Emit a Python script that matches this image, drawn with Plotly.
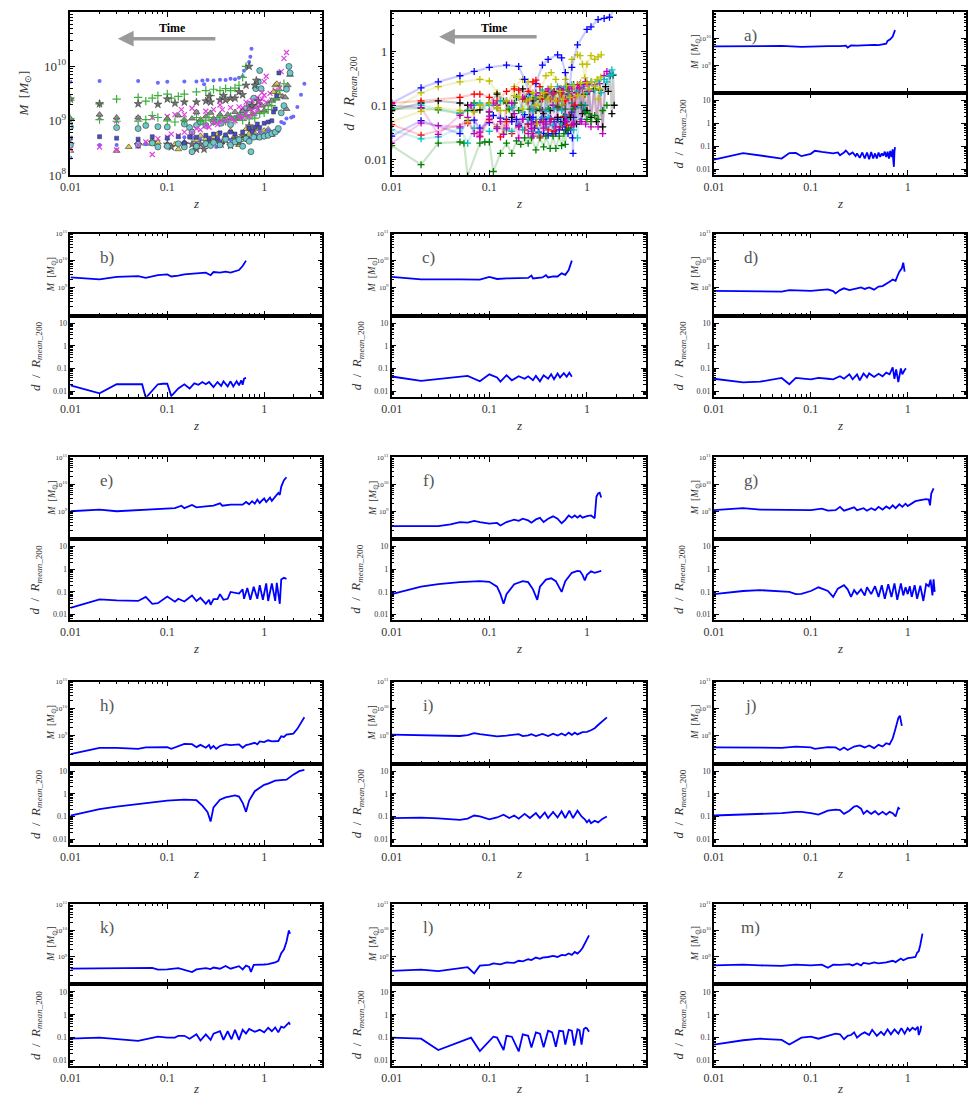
import plotly.graph_objects as go

# the page body keeps its 8px margin on every side, so the figure is shrunk to fit inside it
OFF = 8
W, H = 976 - 2 * OFF, 1110 - 2 * OFF

# each pair is (z, value)
# mass in units of 1e9 M_sun, distance in units of R_mean_200
a_mass = [(0.01, 5.2), (0.02, 5.4), (0.05, 5.4), (0.08, 5.0), (0.1, 5.2), (0.15, 5.3), (0.2, 5.3),
          (0.23, 5.5), (0.24, 4.7), (0.26, 5.6), (0.3, 5.5), (0.35, 5.7), (0.4, 5.6), (0.45, 5.9),
          (0.5, 5.8), (0.55, 6.2), (0.6, 6.6), (0.62, 8.3), (0.66, 9.5), (0.7, 12), (0.72, 15), (0.74, 21)]
a_dist = [(0.01, 0.027), (0.02, 0.052), (0.05, 0.03), (0.06, 0.052), (0.07, 0.053), (0.08, 0.038),
          (0.1, 0.048), (0.11, 0.065), (0.13, 0.058), (0.15, 0.055), (0.17, 0.05), (0.19, 0.055),
          (0.2, 0.042), (0.22, 0.055), (0.23, 0.067), (0.25, 0.045), (0.27, 0.055), (0.29, 0.038),
          (0.3, 0.05), (0.32, 0.032), (0.34, 0.055), (0.36, 0.03), (0.38, 0.055), (0.4, 0.028),
          (0.42, 0.058), (0.44, 0.03), (0.46, 0.05), (0.48, 0.03), (0.5, 0.055), (0.52, 0.035),
          (0.54, 0.05), (0.56, 0.04), (0.58, 0.06), (0.6, 0.035), (0.62, 0.06), (0.64, 0.03),
          (0.66, 0.065), (0.68, 0.035), (0.7, 0.075), (0.71, 0.025), (0.72, 0.013), (0.73, 0.06), (0.74, 0.095)]

b_mass = [(0.01, 2.4), (0.02, 2.05), (0.03, 2.5), (0.05, 2.7), (0.06, 2.3), (0.07, 2.6), (0.08, 2.9),
          (0.1, 3.1), (0.11, 2.6), (0.13, 2.8), (0.15, 3.1), (0.2, 3.4), (0.25, 3.6), (0.28, 2.9),
          (0.3, 3.8), (0.35, 3.6), (0.4, 3.9), (0.45, 3.6), (0.5, 4.0), (0.55, 4.5), (0.6, 6.3), (0.65, 10)]
b_dist = [(0.01, 0.018), (0.02, 0.008), (0.03, 0.02), (0.05, 0.021), (0.055, 0.02), (0.06, 0.005),
          (0.08, 0.02), (0.09, 0.021), (0.1, 0.021), (0.11, 0.006), (0.13, 0.013), (0.15, 0.02),
          (0.17, 0.013), (0.19, 0.022), (0.21, 0.019), (0.23, 0.025), (0.25, 0.02), (0.27, 0.025),
          (0.3, 0.015), (0.33, 0.025), (0.36, 0.017), (0.38, 0.027), (0.42, 0.016), (0.45, 0.027),
          (0.48, 0.016), (0.52, 0.027), (0.55, 0.018), (0.58, 0.03), (0.6, 0.019), (0.62, 0.035), (0.65, 0.038)]

c_mass = [(0.01, 2.5), (0.02, 2.05), (0.05, 2.05), (0.08, 2.0), (0.1, 2.5), (0.12, 2.1), (0.15, 2.2),
          (0.2, 2.2), (0.25, 2.3), (0.27, 2.8), (0.28, 2.2), (0.35, 2.4), (0.38, 2.9), (0.4, 2.4),
          (0.45, 2.6), (0.5, 2.6), (0.55, 3.4), (0.6, 3.0), (0.65, 4.5), (0.7, 10)]
c_dist = [(0.01, 0.044), (0.02, 0.028), (0.06, 0.047), (0.08, 0.027), (0.1, 0.055), (0.12, 0.04),
          (0.13, 0.026), (0.15, 0.05), (0.17, 0.03), (0.2, 0.045), (0.23, 0.035), (0.25, 0.045),
          (0.28, 0.03), (0.3, 0.047), (0.33, 0.027), (0.36, 0.05), (0.4, 0.035), (0.43, 0.055),
          (0.46, 0.033), (0.5, 0.06), (0.53, 0.04), (0.58, 0.062), (0.62, 0.043), (0.66, 0.065), (0.7, 0.043)]

d_mass = [(0.01, 0.77), (0.03, 0.75), (0.05, 0.72), (0.06, 0.82), (0.08, 0.78), (0.1, 0.77),
          (0.15, 0.87), (0.17, 0.75), (0.18, 0.62), (0.2, 0.82), (0.22, 0.95), (0.25, 0.82),
          (0.3, 0.95), (0.33, 1.03), (0.36, 0.9), (0.4, 1.03), (0.45, 0.85), (0.5, 1.1), (0.55, 1.15),
          (0.6, 1.45), (0.65, 1.67), (0.7, 2.0), (0.75, 1.8), (0.78, 2.6), (0.82, 3.9), (0.87, 5.2),
          (0.9, 8.4), (0.93, 3.9)]
d_dist = [(0.01, 0.035), (0.02, 0.024), (0.03, 0.026), (0.05, 0.038), (0.06, 0.02), (0.07, 0.038),
          (0.1, 0.033), (0.12, 0.038), (0.15, 0.035), (0.17, 0.033), (0.2, 0.045), (0.22, 0.035),
          (0.25, 0.055), (0.27, 0.033), (0.3, 0.055), (0.32, 0.03), (0.35, 0.06), (0.38, 0.04),
          (0.4, 0.06), (0.45, 0.042), (0.5, 0.058), (0.55, 0.045), (0.6, 0.065), (0.65, 0.055),
          (0.7, 0.11), (0.73, 0.035), (0.76, 0.09), (0.8, 0.025), (0.85, 0.1), (0.88, 0.055),
          (0.93, 0.085), (0.96, 0.1)]

e_mass = [(0.01, 1.0), (0.02, 1.15), (0.03, 1.0), (0.05, 1.1), (0.07, 1.15), (0.1, 1.2), (0.12, 1.3),
          (0.14, 1.6), (0.15, 1.3), (0.18, 1.7), (0.2, 1.4), (0.25, 1.5), (0.3, 1.6), (0.35, 1.95),
          (0.37, 1.6), (0.45, 1.75), (0.55, 1.8), (0.6, 1.75), (0.65, 2.2), (0.7, 1.8), (0.75, 2.35),
          (0.8, 1.9), (0.85, 2.7), (0.9, 2.0), (0.95, 2.5), (1.0, 2.95), (1.05, 2.2), (1.15, 3.2),
          (1.2, 2.4), (1.3, 3.6), (1.4, 4.7), (1.45, 4.0), (1.5, 8.0), (1.6, 14), (1.7, 18)]
e_dist = [(0.01, 0.02), (0.02, 0.047), (0.03, 0.042), (0.05, 0.04), (0.06, 0.06), (0.07, 0.03),
          (0.08, 0.032), (0.1, 0.063), (0.12, 0.037), (0.13, 0.05), (0.15, 0.038), (0.18, 0.07),
          (0.2, 0.04), (0.22, 0.055), (0.25, 0.03), (0.27, 0.045), (0.28, 0.027), (0.3, 0.048),
          (0.33, 0.048), (0.35, 0.08), (0.38, 0.045), (0.42, 0.05), (0.45, 0.1), (0.5, 0.095),
          (0.55, 0.085), (0.6, 0.13), (0.62, 0.05), (0.67, 0.15), (0.72, 0.045), (0.78, 0.17),
          (0.85, 0.05), (0.9, 0.2), (0.97, 0.045), (1.05, 0.24), (1.1, 0.04), (1.2, 0.24), (1.3, 0.04),
          (1.35, 0.25), (1.45, 0.03), (1.5, 0.35), (1.6, 0.42), (1.7, 0.38)]

f_mass = [(0.01, 0.28), (0.03, 0.28), (0.04, 0.33), (0.05, 0.4), (0.06, 0.38), (0.07, 0.44),
          (0.08, 0.4), (0.1, 0.35), (0.12, 0.37), (0.13, 0.3), (0.15, 0.4), (0.18, 0.49), (0.2, 0.44),
          (0.22, 0.53), (0.25, 0.46), (0.27, 0.38), (0.3, 0.5), (0.33, 0.57), (0.36, 0.4), (0.4, 0.53),
          (0.45, 0.65), (0.5, 0.53), (0.55, 0.36), (0.6, 0.48), (0.65, 0.7), (0.7, 0.58), (0.75, 0.7),
          (0.8, 0.58), (0.85, 0.7), (0.9, 0.58), (1.0, 0.66), (1.1, 0.7), (1.2, 0.55), (1.25, 3.4),
          (1.3, 4.5), (1.35, 4.8), (1.4, 3.2)]
f_dist = [(0.01, 0.08), (0.02, 0.17), (0.03, 0.22), (0.05, 0.27), (0.08, 0.3), (0.1, 0.28),
          (0.12, 0.17), (0.13, 0.08), (0.14, 0.03), (0.15, 0.08), (0.18, 0.22), (0.22, 0.3),
          (0.25, 0.27), (0.28, 0.13), (0.31, 0.045), (0.33, 0.17), (0.38, 0.35), (0.43, 0.4),
          (0.48, 0.3), (0.52, 0.17), (0.55, 0.1), (0.6, 0.3), (0.7, 0.7), (0.8, 0.85), (0.85, 0.82),
          (0.9, 0.57), (0.95, 0.32), (1.0, 0.57), (1.1, 0.82), (1.2, 0.7), (1.3, 0.78), (1.4, 0.85)]

g_mass = [(0.01, 1.1), (0.02, 1.3), (0.03, 1.15), (0.05, 1.15), (0.1, 1.1), (0.13, 1.25), (0.15, 1.05),
          (0.18, 1.1), (0.2, 1.45), (0.22, 1.05), (0.25, 1.2), (0.28, 1.4), (0.3, 1.1), (0.35, 1.3),
          (0.38, 1.05), (0.42, 1.3), (0.46, 1.1), (0.5, 1.45), (0.55, 1.15), (0.6, 1.5), (0.65, 1.25),
          (0.7, 1.65), (0.75, 1.3), (0.82, 1.8), (0.88, 1.45), (0.95, 1.9), (1.0, 1.55), (1.1, 2.0),
          (1.2, 2.35), (1.35, 2.55), (1.55, 2.8), (1.65, 2.7), (1.7, 1.65), (1.75, 4.5), (1.85, 7.0)]
g_dist = [(0.01, 0.08), (0.02, 0.11), (0.03, 0.12), (0.05, 0.11), (0.06, 0.1), (0.07, 0.08),
          (0.08, 0.082), (0.1, 0.11), (0.12, 0.16), (0.15, 0.11), (0.17, 0.06), (0.19, 0.14),
          (0.22, 0.2), (0.24, 0.13), (0.26, 0.06), (0.28, 0.12), (0.3, 0.08), (0.33, 0.13), (0.36, 0.07),
          (0.38, 0.16), (0.42, 0.08), (0.46, 0.18), (0.5, 0.06), (0.54, 0.2), (0.58, 0.05), (0.63, 0.22),
          (0.68, 0.06), (0.73, 0.24), (0.78, 0.045), (0.85, 0.24), (0.9, 0.07), (0.95, 0.16), (1.0, 0.08),
          (1.05, 0.18), (1.1, 0.06), (1.18, 0.2), (1.25, 0.05), (1.35, 0.19), (1.45, 0.04), (1.55, 0.22),
          (1.65, 0.18), (1.72, 0.35), (1.8, 0.07), (1.85, 0.36), (1.9, 0.1)]

h_mass = [(0.01, 0.21), (0.02, 0.36), (0.03, 0.36), (0.05, 0.33), (0.06, 0.37), (0.1, 0.38),
          (0.11, 0.33), (0.15, 0.5), (0.18, 0.49), (0.2, 0.38), (0.22, 0.46), (0.25, 0.36), (0.27, 0.46),
          (0.28, 0.34), (0.3, 0.42), (0.32, 0.33), (0.35, 0.42), (0.4, 0.48), (0.45, 0.45), (0.55, 0.48),
          (0.6, 0.36), (0.65, 0.45), (0.7, 0.48), (0.8, 0.55), (0.85, 0.48), (0.9, 0.62), (1.0, 0.58),
          (1.1, 0.68), (1.2, 0.62), (1.4, 0.64), (1.5, 0.95), (1.6, 0.9), (1.7, 1.1), (1.9, 1.15),
          (2.0, 1.2), (2.2, 1.8), (2.4, 3.0), (2.6, 4.8)]
h_dist = [(0.01, 0.11), (0.02, 0.21), (0.03, 0.27), (0.05, 0.35), (0.07, 0.42), (0.1, 0.5),
          (0.15, 0.55), (0.2, 0.52), (0.23, 0.3), (0.26, 0.16), (0.28, 0.06), (0.3, 0.25), (0.35, 0.55),
          (0.4, 0.7), (0.5, 0.85), (0.55, 0.75), (0.6, 0.4), (0.65, 0.16), (0.7, 0.5), (0.8, 1.3),
          (1.0, 2.5), (1.1, 2.8), (1.3, 3.8), (1.5, 4.0), (1.7, 4.2), (2.0, 7.0), (2.3, 10), (2.6, 11.5)]

i_mass = [(0.01, 1.1), (0.02, 1.05), (0.03, 0.98), (0.05, 0.98), (0.06, 1.05), (0.07, 1.25),
          (0.08, 1.15), (0.1, 1.0), (0.12, 0.95), (0.15, 1.02), (0.2, 1.15), (0.22, 0.97), (0.25, 1.03),
          (0.27, 1.15), (0.3, 0.98), (0.35, 1.17), (0.4, 0.98), (0.45, 1.2), (0.5, 1.02), (0.55, 1.22),
          (0.6, 1.02), (0.65, 1.3), (0.7, 1.08), (0.75, 1.3), (0.8, 1.12), (0.9, 1.35), (1.0, 1.4),
          (1.1, 1.6), (1.2, 1.9), (1.3, 2.5), (1.45, 3.6), (1.6, 4.8)]
i_dist = [(0.01, 0.085), (0.02, 0.088), (0.03, 0.082), (0.05, 0.07), (0.06, 0.08), (0.07, 0.11),
          (0.08, 0.1), (0.1, 0.075), (0.12, 0.09), (0.14, 0.12), (0.16, 0.085), (0.18, 0.11), (0.2, 0.08),
          (0.23, 0.13), (0.26, 0.085), (0.3, 0.14), (0.33, 0.085), (0.37, 0.15), (0.4, 0.085),
          (0.45, 0.16), (0.5, 0.09), (0.55, 0.17), (0.6, 0.085), (0.66, 0.18), (0.72, 0.085), (0.8, 0.18),
          (0.88, 0.1), (0.95, 0.075), (1.0, 0.055), (1.05, 0.07), (1.1, 0.05), (1.2, 0.065), (1.3, 0.055),
          (1.45, 0.08), (1.6, 0.1)]

j_mass = [(0.01, 0.37), (0.05, 0.36), (0.07, 0.4), (0.1, 0.37), (0.11, 0.33), (0.15, 0.38),
          (0.18, 0.37), (0.2, 0.3), (0.22, 0.37), (0.24, 0.3), (0.28, 0.4), (0.32, 0.44), (0.36, 0.37),
          (0.4, 0.44), (0.45, 0.35), (0.5, 0.46), (0.55, 0.4), (0.6, 0.53), (0.65, 0.48), (0.7, 0.8),
          (0.75, 1.9), (0.8, 4.5), (0.83, 5.5), (0.87, 2.3)]
j_dist = [(0.01, 0.11), (0.02, 0.12), (0.05, 0.14), (0.07, 0.16), (0.08, 0.16), (0.1, 0.14),
          (0.12, 0.12), (0.15, 0.18), (0.18, 0.2), (0.2, 0.19), (0.22, 0.13), (0.25, 0.18), (0.28, 0.27),
          (0.3, 0.29), (0.33, 0.22), (0.35, 0.13), (0.38, 0.18), (0.42, 0.13), (0.46, 0.17), (0.5, 0.12),
          (0.55, 0.16), (0.6, 0.12), (0.65, 0.16), (0.7, 0.14), (0.75, 0.1), (0.8, 0.24), (0.83, 0.21)]

k_mass = [(0.01, 0.36), (0.05, 0.37), (0.07, 0.39), (0.08, 0.33), (0.1, 0.34), (0.13, 0.38),
          (0.15, 0.33), (0.18, 0.27), (0.2, 0.34), (0.25, 0.38), (0.28, 0.35), (0.3, 0.4), (0.35, 0.36),
          (0.4, 0.46), (0.45, 0.36), (0.5, 0.41), (0.55, 0.45), (0.6, 0.34), (0.65, 0.47), (0.7, 0.42),
          (0.73, 0.27), (0.78, 0.5), (0.9, 0.5), (1.0, 0.52), (1.1, 0.54), (1.2, 0.58), (1.3, 0.62),
          (1.4, 0.72), (1.5, 1.4), (1.6, 1.9), (1.7, 3.8), (1.8, 10), (1.85, 7.6)]
k_dist = [(0.01, 0.09), (0.02, 0.1), (0.05, 0.072), (0.07, 0.1), (0.08, 0.11), (0.1, 0.1), (0.12, 0.1),
          (0.13, 0.12), (0.15, 0.12), (0.17, 0.09), (0.2, 0.14), (0.22, 0.075), (0.25, 0.14), (0.28, 0.08),
          (0.3, 0.15), (0.35, 0.19), (0.38, 0.08), (0.42, 0.19), (0.46, 0.085), (0.5, 0.22), (0.55, 0.08),
          (0.6, 0.22), (0.65, 0.15), (0.7, 0.24), (0.8, 0.18), (0.9, 0.22), (1.0, 0.17), (1.1, 0.27),
          (1.2, 0.19), (1.3, 0.28), (1.4, 0.17), (1.5, 0.3), (1.6, 0.27), (1.7, 0.35), (1.8, 0.45), (1.85, 0.37)]

l_mass = [(0.01, 0.3), (0.02, 0.33), (0.03, 0.29), (0.05, 0.36), (0.06, 0.41), (0.07, 0.24),
          (0.08, 0.47), (0.1, 0.5), (0.11, 0.57), (0.13, 0.53), (0.15, 0.62), (0.18, 0.6), (0.2, 0.72),
          (0.22, 0.68), (0.25, 0.82), (0.27, 0.76), (0.3, 0.95), (0.33, 0.85), (0.35, 0.95), (0.4, 1.0),
          (0.45, 1.1), (0.5, 1.0), (0.55, 1.2), (0.6, 1.15), (0.65, 1.35), (0.7, 1.2), (0.75, 1.55),
          (0.8, 1.35), (0.85, 1.65), (0.9, 2.2), (0.95, 3.3), (1.0, 5.3), (1.05, 6.6)]
l_dist = [(0.01, 0.1), (0.02, 0.09), (0.03, 0.029), (0.05, 0.065), (0.065, 0.1), (0.08, 0.026),
          (0.1, 0.076), (0.11, 0.11), (0.12, 0.1), (0.14, 0.029), (0.15, 0.12), (0.17, 0.11), (0.2, 0.025),
          (0.22, 0.14), (0.25, 0.12), (0.27, 0.037), (0.3, 0.17), (0.33, 0.15), (0.36, 0.038), (0.4, 0.2),
          (0.44, 0.17), (0.48, 0.04), (0.52, 0.2), (0.57, 0.19), (0.6, 0.05), (0.65, 0.22), (0.7, 0.2),
          (0.74, 0.045), (0.8, 0.23), (0.84, 0.21), (0.88, 0.05), (0.93, 0.24), (0.97, 0.27), (1.0, 0.25),
          (1.05, 0.18)]

m_mass = [(0.01, 0.48), (0.02, 0.51), (0.03, 0.48), (0.05, 0.46), (0.07, 0.51), (0.1, 0.48),
          (0.13, 0.51), (0.15, 0.39), (0.17, 0.51), (0.2, 0.5), (0.25, 0.54), (0.27, 0.48), (0.3, 0.57),
          (0.33, 0.48), (0.35, 0.6), (0.4, 0.55), (0.45, 0.62), (0.5, 0.57), (0.6, 0.62), (0.7, 0.72),
          (0.75, 0.64), (0.8, 0.76), (0.85, 0.87), (0.9, 0.75), (1.0, 0.9), (1.1, 0.95), (1.2, 1.0),
          (1.25, 1.45), (1.3, 1.65), (1.35, 2.9), (1.42, 7.6)]
m_dist = [(0.01, 0.05), (0.02, 0.077), (0.03, 0.09), (0.05, 0.08), (0.06, 0.05), (0.07, 0.075),
          (0.08, 0.1), (0.1, 0.11), (0.12, 0.09), (0.15, 0.12), (0.18, 0.15), (0.2, 0.14), (0.22, 0.085),
          (0.24, 0.12), (0.26, 0.13), (0.28, 0.17), (0.3, 0.1), (0.33, 0.14), (0.36, 0.17), (0.4, 0.13),
          (0.43, 0.22), (0.48, 0.12), (0.53, 0.18), (0.57, 0.13), (0.62, 0.23), (0.67, 0.14), (0.73, 0.23),
          (0.8, 0.15), (0.86, 0.26), (0.93, 0.15), (1.0, 0.26), (1.05, 0.2), (1.12, 0.27), (1.2, 0.22),
          (1.27, 0.3), (1.3, 0.13), (1.35, 0.2), (1.38, 0.33)]

letters = list("abcdefghijklm")
masses = [a_mass, b_mass, c_mass, d_mass, e_mass, f_mass, g_mass, h_mass, i_mass, j_mass, k_mass, l_mass, m_mass]
dists = [a_dist, b_dist, c_dist, d_dist, e_dist, f_dist, g_dist, h_dist, i_dist, j_dist, k_dist, l_dist, m_dist]

x_ticks = [0.01, 0.1, 1]
mass_ticks = [1e8, 1e9, 1e10, 1e11]
dist_ticks = [0.01, 0.1, 1, 10]

FONT = "Liberation Serif"
TXT = "#333333"

# marker styles of the overview mass panel (one per halo)
green = "#3cae3c"
magenta = "#e040e0"
edge = "#303030"
MARKS = [
    dict(symbol="circle", size=4, color="#6a6aff", line=dict(width=0)),
    dict(symbol="cross-thin", size=6, color=green, line=dict(width=1.2, color=green)),
    dict(symbol="star", size=6, color="#707070", line=dict(width=0.5, color=edge)),
    dict(symbol="circle", size=6, color="#6cc9c9", line=dict(width=0.6, color=edge)),
    dict(symbol="x-thin", size=5, color=magenta, line=dict(width=1.2, color=magenta)),
    dict(symbol="triangle-up", size=6, color="#d6d24a", line=dict(width=0.6, color=edge)),
    dict(symbol="triangle-up", size=6, color="#909090", line=dict(width=0.6, color=edge)),
    dict(symbol="circle", size=4, color="#6a6aff", line=dict(width=0)),
    dict(symbol="cross-thin", size=6, color=green, line=dict(width=1.2, color=green)),
    dict(symbol="star", size=6, color="#707070", line=dict(width=0.5, color=edge)),
    dict(symbol="circle", size=6, color="#6cc9c9", line=dict(width=0.6, color=edge)),
    dict(symbol="x-thin", size=5, color=magenta, line=dict(width=1.2, color=magenta)),
    dict(symbol="square", size=4, color="#4a4ad0", line=dict(width=0.5, color=edge)),
]
# matplotlib classic colour cycle for the overview distance panel
CYCLE = [(0, 0, 255), (0, 128, 0), (255, 0, 0), (0, 191, 191), (191, 0, 191), (191, 191, 0), (0, 0, 0)]

# panel geometry in page pixels (top row cannot start above the body margin)
COLS = [(60, 315), (385, 642), (711, 966)]
ROWS = [(8, 90, 173), (232, 315, 397), (458, 541, 623), (685, 768, 850), (910, 991, 1074)]


def px(x):
    return (x - OFF) / W


def py(y):
    return 1 - (y - OFF) / H


def dx(c):
    return [px(COLS[c][0]), px(COLS[c][1])]


def dy(top, bot):
    return [py(bot), py(top)]


def minor_vals(decades):
    return [m * 10.0 ** e for e in decades for m in range(2, 10)]


def axis(domain, rng, tickvals, ticktext, size, minor, labels=True, anchor=None):
    return dict(type="log", domain=domain, range=rng, anchor=anchor,
                showline=True, linewidth=1.5, linecolor="black", mirror="allticks",
                ticks="inside", ticklen=5, tickwidth=1, tickcolor="black",
                tickmode="array", tickvals=tickvals, ticktext=ticktext, showticklabels=labels,
                tickfont=dict(family=FONT, size=size, color=TXT),
                minor=dict(ticks="inside", ticklen=2.5, tickwidth=0.7, tickcolor="black",
                           tickvals=minor, showgrid=False),
                showgrid=False, zeroline=False)


XR = [-2, 0.602]
xlab = [str(v) for v in x_ticks]
mlab_small = ["", "10<sup>9</sup>", "10<sup>10</sup>", "10<sup>11</sup>"]
mlab_big = ["10<sup>8</sup>", "10<sup>9</sup>", "10<sup>10</sup>", "10<sup>11</sup>"]
dlab = ["0.01", "0.1", "1", "10"]

fig = go.Figure()
layout = {}
ann = []

M_TITLE = "<i>M</i>  [<i>M</i><sub>⊙</sub>]"
D_TITLE = "<i>d</i>  /  <i>R</i><sub><i>mean</i>_200</sub>"


def vtitle(text, x, y, size):
    ann.append(dict(text=text, x=px(x), y=py(y), xref="paper", yref="paper", showarrow=False,
                    textangle=-90, xanchor="center", yanchor="middle",
                    font=dict(family=FONT, size=size, color=TXT)))


def ztitle(c, bot):
    ann.append(dict(text="<i>z</i>", x=px((COLS[c][0] + COLS[c][1]) / 2), y=py(min(bot + 29, 1096)),
                    xref="paper", yref="paper", showarrow=False, xanchor="center", yanchor="middle",
                    font=dict(family=FONT, size=13, color=TXT)))


def time_arrow(head, tail, y, text_x):
    ann.append(dict(text="", x=px(head), y=py(y), xref="paper", yref="paper",
                    ax=tail - head, ay=0, showarrow=True, arrowhead=2, arrowsize=0.9,
                    arrowwidth=3.5, arrowcolor="#9a9a9a"))
    ann.append(dict(text="<b>Time</b>", x=px(text_x), y=py(24), xref="paper", yref="paper",
                    xanchor="center", yanchor="middle", showarrow=False,
                    font=dict(family=FONT, size=12, color="black")))


top, mid, bot = ROWS[0]

# overview of all halo masses
layout["xaxis"] = axis(dx(0), XR, x_ticks, xlab, 12, minor_vals([-2, -1, 0]), anchor="y")
layout["yaxis"] = axis(dy(top, bot), [8, 11], mass_ticks, mlab_big, 13, minor_vals([8, 9, 10]), anchor="x")
for k, series in enumerate(masses):
    fig.add_trace(go.Scatter(x=[p[0] for p in series], y=[p[1] * 1e9 for p in series], mode="markers",
                             marker=MARKS[k], xaxis="x", yaxis="y", showlegend=False))
vtitle(M_TITLE, 14, (top + bot) / 2, 13)
ztitle(0, bot)
time_arrow(108, 207, 35, 163)

# overview of all distances
layout["xaxis2"] = axis(dx(1), XR, x_ticks, xlab, 12, minor_vals([-2, -1, 0]), anchor="y2")
layout["yaxis2"] = axis(dy(top, bot), [-2.29, 0.72], dist_ticks, dlab, 13, minor_vals([-3, -2, -1, 0]), anchor="x2")
for k, series in enumerate(dists):
    r, g, b = CYCLE[k % len(CYCLE)]
    fig.add_trace(go.Scatter(x=[p[0] for p in series], y=[p[1] for p in series], mode="lines+markers",
                             line=dict(color=f"rgba({r},{g},{b},0.2)", width=2.2),
                             marker=dict(symbol="cross-thin", size=5, color=f"rgb({r},{g},{b})",
                                         line=dict(width=1.3, color=f"rgb({r},{g},{b})")),
                             xaxis="x2", yaxis="y2", showlegend=False))
vtitle(D_TITLE, 343, (top + bot) / 2, 14)
ztitle(1, bot)
time_arrow(433, 532, 33, 489)

# individual halos: mass on top, distance below
slots = [(0, 2)] + [(r, c) for r in range(1, 5) for c in range(3)]
n = 3
for k, (r, c) in enumerate(slots):
    top, mid, bot = ROWS[r]
    nu, nl = n, n + 1
    n += 2
    layout[f"xaxis{nu}"] = axis(dx(c), XR, x_ticks, xlab, 12, minor_vals([-2, -1, 0]), labels=False, anchor=f"y{nu}")
    layout[f"yaxis{nu}"] = axis(dy(top, mid), [7.97, 11], mass_ticks, mlab_small, 7, minor_vals([7, 8, 9, 10]), anchor=f"x{nu}")
    layout[f"xaxis{nl}"] = axis(dx(c), XR, x_ticks, xlab, 12, minor_vals([-2, -1, 0]), anchor=f"y{nl}")
    layout[f"yaxis{nl}"] = axis(dy(mid, bot), [-2.25, 1.33], dist_ticks, dlab, 8, minor_vals([-3, -2, -1, 0, 1]), anchor=f"x{nl}")
    ms, ds = masses[k], dists[k]
    fig.add_trace(go.Scatter(x=[p[0] for p in ms], y=[p[1] * 1e9 for p in ms], mode="lines",
                             line=dict(color="#0000ff", width=1.8), xaxis=f"x{nu}", yaxis=f"y{nu}", showlegend=False))
    fig.add_trace(go.Scatter(x=[p[0] for p in ds], y=[p[1] for p in ds], mode="lines",
                             line=dict(color="#0000ff", width=1.8), xaxis=f"x{nl}", yaxis=f"y{nl}", showlegend=False))
    left = COLS[c][0]
    vtitle(M_TITLE, left - 19, (top + mid) / 2, 10)
    vtitle(D_TITLE, left - 35, (mid + bot) / 2, 13)
    ztitle(c, bot)
    ann.append(dict(text=letters[k] + ")", x=px(left + 37), y=py(top + 24), xref="paper", yref="paper",
                    showarrow=False, xanchor="center", yanchor="middle",
                    font=dict(family=FONT, size=17, color="#555555")))

fig.update_layout(**layout)
fig.update_layout(width=W, height=H, margin=dict(l=0, r=0, t=0, b=0), autosize=False,
                  paper_bgcolor="white", plot_bgcolor="white", annotations=ann,
                  font=dict(family=FONT, color=TXT))

fig.write_html("out.html", config={"displayModeBar": False})
